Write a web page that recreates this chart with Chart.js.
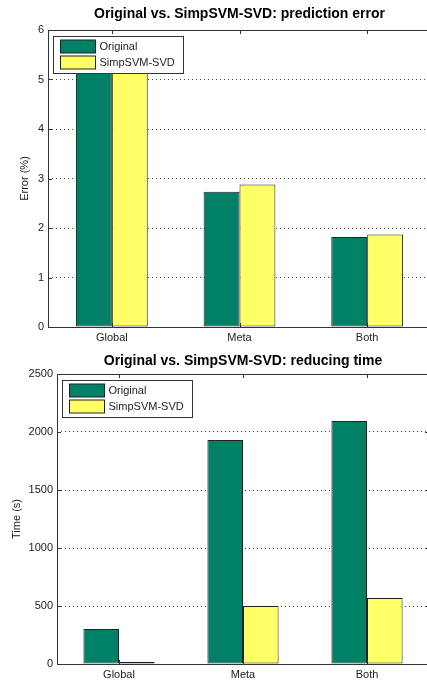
<!DOCTYPE html>
<html>
<head>
<meta charset="utf-8">
<script src="https://cdn.jsdelivr.net/npm/chart.js@4.4.0/dist/chart.umd.min.js"></script>
<style>
  body { margin: 0; background: #fff; overflow: hidden; }
  #wrap { position: relative; width: 427px; height: 684px; overflow: hidden; background: #fff; }
  canvas { position: absolute; left: 0; }
  #errChart { top: 0; }
  #timeChart { top: 342px; }
</style>
</head>
<body>
<div id="wrap">
  <canvas id="errChart" width="432" height="342"></canvas>
  <canvas id="timeChart" width="432" height="342"></canvas>
</div>
<script>
const categories = ["Global", "Meta", "Both"];
const seriesNames = ["Original", "SimpSVM-SVD"];
const errorOriginal = [5.3, 2.73, 1.82];
const errorSimpSVD = [5.3, 2.88, 1.87];
const timeOriginal = [302, 1931, 2095];
const timeSimpSVD = [20, 500, 569];
const errorTicks = [0, 1, 2, 3, 4, 5, 6];
const timeTicks = [0, 500, 1000, 1500, 2000, 2500];

const green = "#008066";
const yellow = "#ffff66";
const axisColor = "#333333";
const fontFamily = "'Liberation Sans', Arial, sans-serif";

// draws the matlab style box, inner tick marks and the legend box
const matlabFrame = {
    id: "matlabFrame",
    afterDatasetsDraw(chart) {
        const ctx = chart.ctx;
        const a = chart.chartArea;
        const x = chart.scales.x;
        const y = chart.scales.y;
        ctx.save();
        ctx.strokeStyle = axisColor;
        ctx.lineWidth = 1;

        ctx.beginPath();
        // tick marks on top and bottom axes
        categories.forEach((c, i) => {
            const px = Math.round(x.getPixelForValue(i)) + 0.5;
            ctx.moveTo(px, a.top);
            ctx.lineTo(px, a.top + 4);
            ctx.moveTo(px, a.bottom);
            ctx.lineTo(px, a.bottom - 4);
        });
        // tick marks on left and right axes
        y.ticks.forEach(t => {
            const py = Math.round(y.getPixelForValue(t.value)) + 0.5;
            ctx.moveTo(a.left, py);
            ctx.lineTo(a.left + 4, py);
            ctx.moveTo(a.right, py);
            ctx.lineTo(a.right - 4, py);
        });
        ctx.stroke();

        ctx.strokeRect(Math.round(a.left) + 0.5, Math.round(a.top) + 0.5,
            Math.round(a.right - a.left) - 1, Math.round(a.bottom - a.top));

        // legend
        const lx = Math.round(a.left) + 5.5;
        const ly = Math.round(a.top) + 6.5;
        ctx.fillStyle = "#fff";
        ctx.fillRect(lx, ly, 130, 37);
        ctx.strokeRect(lx, ly, 130, 37);
        ctx.font = "11px " + fontFamily;
        ctx.textBaseline = "middle";
        chart.data.datasets.forEach((ds, i) => {
            const sy = ly + 3 + i * 16.5;
            ctx.fillStyle = ds.backgroundColor;
            ctx.fillRect(lx + 7, Math.round(sy), 35, 13);
            ctx.strokeStyle = "#222";
            ctx.strokeRect(lx + 7, Math.round(sy), 35, 13);
            ctx.fillStyle = "#222";
            ctx.fillText(ds.label, lx + 46, Math.round(sy) + 7);
        });
        ctx.restore();
    }
};

function makeChart(id, title, yTitle, vals1, vals2, yTicks, opts) {
    return new Chart(document.getElementById(id), {
        type: "bar",
        data: {
            labels: categories,
            datasets: [
                {
                    label: seriesNames[0],
                    data: vals1,
                    backgroundColor: green,
                    borderColor: "#222",
                    borderWidth: 1,
                    borderSkipped: false,
                    barPercentage: 1,
                    categoryPercentage: opts.catPct
                },
                {
                    label: seriesNames[1],
                    data: vals2,
                    backgroundColor: yellow,
                    borderColor: "#222",
                    borderWidth: 1,
                    borderSkipped: false,
                    barPercentage: 1,
                    categoryPercentage: opts.catPct
                }
            ]
        },
        options: {
            responsive: false,
            animation: false,
            devicePixelRatio: 1,
            layout: { padding: { left: 0, right: opts.padRight, top: 0, bottom: 0 } },
            plugins: {
                legend: { display: false },
                tooltip: { enabled: false },
                title: {
                    display: true,
                    text: title,
                    fullSize: false,
                    color: "#000",
                    font: { family: fontFamily, size: 14, weight: "bold" },
                    padding: opts.titlePad
                }
            },
            scales: {
                x: {
                    grid: { display: false, drawTicks: false },
                    border: { display: false },
                    ticks: { color: "#222", padding: 4, font: { family: fontFamily, size: 11 } },
                    afterFit: s => { s.height = opts.xHeight; }
                },
                y: {
                    min: yTicks[0],
                    max: yTicks[yTicks.length - 1],
                    afterBuildTicks: s => { s.ticks = yTicks.map(v => ({ value: v })); },
                    afterFit: s => { s.width = opts.yWidth; },
                    border: { display: false, dash: [1, 3] },
                    grid: {
                        drawTicks: false,
                        lineWidth: 1,
                        color: c => (c.tick && (c.tick.value === yTicks[0] || c.tick.value === yTicks[yTicks.length - 1])) ? "rgba(0,0,0,0)" : "#444"
                    },
                    ticks: {
                        color: "#222",
                        padding: 4,
                        font: { family: fontFamily, size: 11 },
                        callback: v => String(v)
                    },
                    title: {
                        display: true,
                        text: yTitle,
                        color: "#222",
                        font: { family: fontFamily, size: 11 },
                        padding: { top: opts.yTitlePad, bottom: 0 }
                    }
                }
            }
        },
        plugins: [matlabFrame]
    });
}

makeChart("errChart", "Original vs. SimpSVM-SVD: prediction error", "Error (%)",
    errorOriginal, errorSimpSVD, errorTicks,
    { catPct: 0.5625, padRight: 1, titlePad: { top: 6, bottom: 7.2 }, xHeight: 15, yWidth: 48, yTitlePad: 18 });

makeChart("timeChart", "Original vs. SimpSVM-SVD: reducing time", "Time (s)",
    timeOriginal, timeSimpSVD, timeTicks,
    { catPct: 0.574, padRight: 3, titlePad: { top: 10.3, bottom: 4.9 }, xHeight: 20, yWidth: 57, yTitlePad: 10.5 });
</script>
</body>
</html>
